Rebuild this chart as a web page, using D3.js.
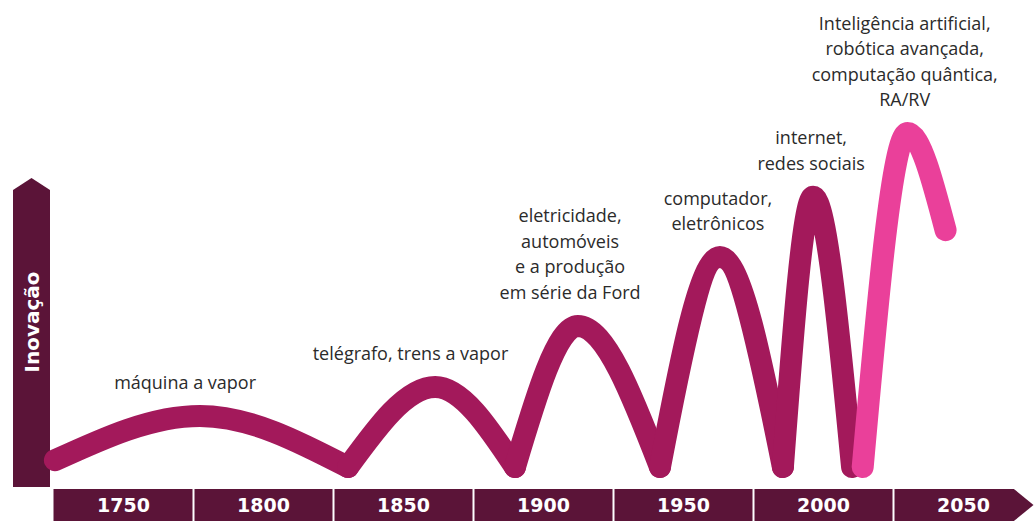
<!DOCTYPE html>
<html>
<head>
  <meta charset="utf-8">
  <title>Inovação</title>
<style type="text/css">
body {
  margin: 0;
  background: #fff;
}

.wave {
  fill: none;
  stroke-width: 22px;
  stroke-linecap: round;
  stroke-linejoin: round;
}

.note text {
  font-family: "Open Sans", sans-serif;
  font-size: 18px;
  fill: #2b2b2b;
}

.tick-label {
  font-family: "DejaVu Sans", sans-serif;
  font-weight: bold;
  font-size: 19px;
  fill: #fff;
}
</style>
</head>
<body>
<script src="https://cdn.jsdelivr.net/npm/d3@7"></script>
<script>
// eras on the timeline
var eras = ["1750", "1800", "1850", "1900", "1950", "2000", "2050"];

// innovation curve (year, level 0-100), one arch between each pair of troughs
var darkYears  = [1725.5, 1777.3, 1830.2, 1861.3, 1889.8, 1912.3, 1941.6, 1963.0, 1985.5, 1996.3, 2010.2];
var darkLevels = [2, 15.2, 0, 23.8, 0, 42, 0, 62.5, 0, 80.4, 0];
var pinkYears  = [2014, 2030, 2043.6];
var pinkLevels = [0, 99.4, 70.5];

// milestone labels
var noteYears = [1772, 1852.5, 1909.5, 1962.3, 1995.6, 2029];
var noteLevels = [15.2, 23.8, 42, 62.5, 80.4, 99.4];
var noteTexts = [
  ["máquina a vapor"],
  ["telégrafo, trens a vapor"],
  ["eletricidade,", "automóveis", "e a produção", "em série da Ford"],
  ["computador,", "eletrônicos"],
  ["internet,", "redes sociais"],
  ["Inteligência artificial,", "robótica avançada,", "computação quântica,", "RA/RV"]
];

var width = 1035, height = 521;
var dark = "#5b1438", wine = "#a3195b", pink = "#ea409a";

var svg = d3.select("body").append("svg")
    .attr("width", width)
    .attr("height", height);

var x = d3.scaleLinear()
  .domain([1725, 2075])
  .range([53.5, 1033.5]);

var y = d3.scaleLinear()
  .domain([0, 100])
  .range([467, 131]);

// vertical arrow (y axis)
var ax0 = 13, ax1 = 50, arrowTop = 178;
svg.append("path")
  .attr("d", "M" + ax0 + "," + (arrowTop + 12) + "L" + ((ax0 + ax1) / 2) + "," + arrowTop +
    "L" + ax1 + "," + (arrowTop + 12) + "L" + ax1 + ",487L" + ax0 + ",487Z")
  .attr("fill", dark);

svg.append("text")
  .attr("transform", "translate(" + (ax0 + ax1) / 2 + ",322) rotate(-90)")
  .attr("text-anchor", "middle")
  .attr("dy", "0.36em")
  .attr("class", "tick-label")
  .style("font-size", "20px")
  .text("Inovação");

// bottom timeline bar
var by0 = 489, by1 = 521;
var barEnd = x(2068), tip = x(2075);
svg.append("path")
  .attr("d", "M" + x(1725) + "," + by0 + "L" + barEnd + "," + by0 + "L" + tip + "," + (by0 + by1) / 2 +
    "L" + barEnd + "," + by1 + "L" + x(1725) + "," + by1 + "Z")
  .attr("fill", dark);

svg.selectAll("line.sep")
  .data(eras.slice(1))
  .enter().append("line")
    .attr("class", "sep")
    .attr("x1", function(d) { return x(+d - 25); })
    .attr("x2", function(d) { return x(+d - 25); })
    .attr("y1", by0)
    .attr("y2", by1)
    .attr("stroke", "#fff")
    .attr("stroke-width", 2);

svg.selectAll("text.era")
  .data(eras)
  .enter().append("text")
    .attr("class", "tick-label era")
    .attr("x", function(d) { return x(+d); })
    .attr("y", (by0 + by1) / 2)
    .attr("dy", "0.36em")
    .attr("text-anchor", "middle")
    .text(function(d) { return d; });

// split the dark curve into arches at troughs
var pts = darkYears.map(function(d, i) { return [d, darkLevels[i]]; });
var arches = [];
for (var i = 0; i + 2 < pts.length; i += 2) {
  arches.push([pts[i], pts[i + 1], pts[i + 2]]);
}

var line = d3.line()
  .x(function(d) { return x(d[0]); })
  .y(function(d) { return y(d[1]); })
  .curve(d3.curveMonotoneX);

svg.selectAll("path.arch")
  .data(arches)
  .enter().append("path")
    .attr("class", "wave arch")
    .attr("stroke", wine)
    .attr("d", line);

svg.append("path")
  .attr("class", "wave")
  .attr("stroke", pink)
  .attr("d", line(pinkYears.map(function(d, i) { return [d, pinkLevels[i]]; })));

// labels above each peak
var notes = svg.selectAll("g.note")
  .data(noteTexts)
  .enter().append("g")
    .attr("class", "note");

notes.each(function(lines, i) {
  var g = d3.select(this);
  var baseY = y(noteLevels[i]) - 27;
  lines.forEach(function(t, j) {
    g.append("text")
      .attr("x", x(noteYears[i]))
      .attr("y", baseY - (lines.length - 1 - j) * 25.5)
      .attr("text-anchor", "middle")
      .text(t);
  });
});
</script>
</body>
</html>
